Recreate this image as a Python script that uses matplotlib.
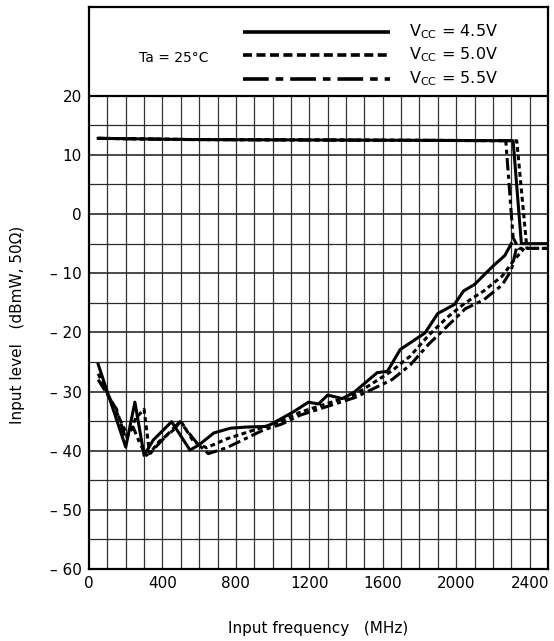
import matplotlib
matplotlib.use("Agg")
import matplotlib.pyplot as plt

plt.rcParams['font.family'] = ['DejaVu Sans']
plt.rcParams['lines.scale_dashes'] = False
plt.rcParams['mathtext.default'] = 'regular'

# ---------------- data ----------------
x_ticks = [0, 400, 800, 1200, 1600, 2000, 2400]
y_ticks = [20, 10, 0, -10, -20, -30, -40, -50, -60]
y_tick_labels = ["20", "10", "0", "– 10", "– 20", "– 30", "– 40", "– 50", "– 60"]

# Vcc = 4.5 V (solid)
f45_low = [50, 200, 250, 300, 350, 450, 550, 600, 680, 770, 860, 970, 1110, 1195, 1250, 1300,
           1380, 1445, 1570, 1625, 1695, 1830, 1900, 1990, 2040, 2100, 2200, 2265, 2300]
v45_low = [-25.4, -39.4, -31.8, -40.8, -38.2, -35.1, -39.9, -39.0, -37.0, -36.2, -36.0, -35.9,
           -33.5, -31.8, -32.1, -30.6, -31.2, -30.1, -26.8, -26.6, -22.9, -20.1, -16.8, -15.3,
           -13.0, -11.9, -8.8, -7.0, -5.0]
f45_up = [50, 530, 2310, 2355, 2500]
v45_up = [12.8, 12.6, 12.4, -5.0, -5.0]

# Vcc = 5.0 V (short dash)
f50_low = [50, 150, 210, 255, 300, 330, 380, 460, 500, 570, 640, 750, 850, 950, 1050, 1150,
           1250, 1350, 1450, 1550, 1650, 1750, 1850, 1950, 2050, 2150, 2250, 2310, 2370]
v50_low = [-27.0, -33.5, -37.5, -34.5, -33.0, -40.5, -38.5, -36.5, -35.0, -38.5, -39.5, -38.0,
           -37.0, -36.0, -35.0, -33.5, -32.5, -31.5, -30.5, -28.5, -26.5, -24.0, -20.5, -17.5,
           -15.0, -13.0, -10.5, -8.0, -5.8]
f50_up = [50, 530, 2330, 2385, 2500]
v50_up = [12.8, 12.6, 12.4, -5.8, -5.8]

# Vcc = 5.5 V (long dash - short dash)
f55_low = [50, 150, 200, 240, 280, 320, 360, 420, 495, 590, 650, 750, 850, 950, 1050, 1150,
           1250, 1350, 1450, 1550, 1650, 1750, 1850, 1950, 2050, 2150, 2250, 2300, 2330]
v55_low = [-28.0, -33.0, -38.0, -36.0, -39.0, -41.0, -39.5, -37.5, -35.1, -38.8, -40.5, -39.5,
           -38.0, -36.5, -35.5, -34.0, -33.0, -32.0, -31.0, -29.5, -28.0, -25.5, -22.0, -19.0,
           -16.0, -14.5, -12.0, -9.5, -5.5]
f55_up = [50, 530, 2270, 2310, 2340, 2500]
v55_up = [12.8, 12.6, 12.4, -4.0, -5.8, -5.8]

legend_labels = ["V$_{CC}$ = 4.5V", "V$_{CC}$ = 5.0V", "V$_{CC}$ = 5.5V"]

# ---------------- figure ----------------
W, H = 554, 641
fig = plt.figure(figsize=(W / 100, H / 100), dpi=100)
ax = fig.add_axes([89 / W, 1 - 569 / H, 459 / W, 562 / H])
ax.set_xlim(0, 2500)
ax.set_ylim(-60, 35)

# grid restricted to the plotting region (below 20 dBmW)
for f in range(100, 2500, 100):
    ax.plot([f, f], [-60, 20], color='#333333', lw=0.9, zorder=1)
for v in range(-55, 21, 5):
    lw = 1.6 if v == 20 else (1.2 if v % 10 == 0 else 0.9)
    col = 'black' if v == 20 else '#2a2a2a'
    ax.plot([0, 2500], [v, v], color=col, lw=lw, zorder=1)

for s in ax.spines.values():
    s.set_linewidth(1.6)
    s.set_color('black')

ax.set_xticks(x_ticks)
ax.set_xticklabels([str(t) for t in x_ticks], fontsize=11)
ax.set_yticks(y_ticks)
ax.set_yticklabels(y_tick_labels, fontsize=11)
ax.tick_params(length=0, pad=5)

solid_kw = dict(color='black', lw=2.2, linestyle='-', zorder=5)
short_kw = dict(color='black', lw=2.2, linestyle=(0, (3.5, 2.5)), zorder=4)
long_kw = dict(color='black', lw=2.2, linestyle=(0, (9, 3, 3, 3)), zorder=3)

ax.plot(f55_low, v55_low, **long_kw)
ax.plot(f55_up, v55_up, **long_kw)
ax.plot(f50_low, v50_low, **short_kw)
ax.plot(f50_up, v50_up, **short_kw)
ax.plot(f45_low, v45_low, **solid_kw)
ax.plot(f45_up, v45_up, **solid_kw)

# legend drawn in the upper box
leg_styles = [dict(linestyle='-'),
              dict(linestyle=(0, (6.5, 3.2))),
              dict(linestyle=(0, (18.5, 5, 5.5, 5)))]
leg_y = [30.8, 26.9, 22.9]
for st, yv, lab in zip(leg_styles, leg_y, legend_labels):
    ax.plot([840, 1640], [yv, yv], color='black', lw=2.6, solid_capstyle='butt',
            dash_capstyle='butt', **st)
    ax.text(1745, yv, lab, fontsize=11.5, va='center', ha='left')
ax.text(270, 26.4, "Ta = 25°C", fontsize=10, va='center', ha='left')

fig.text(318 / W, 1 - 628 / H, "Input frequency   (MHz)", fontsize=11, ha='center', va='center')
fig.text(18 / W, 1 - 325 / H, "Input level   (dBmW, 50Ω)", fontsize=11, ha='center',
         va='center', rotation=90)

fig.savefig("out.png", dpi=100)
